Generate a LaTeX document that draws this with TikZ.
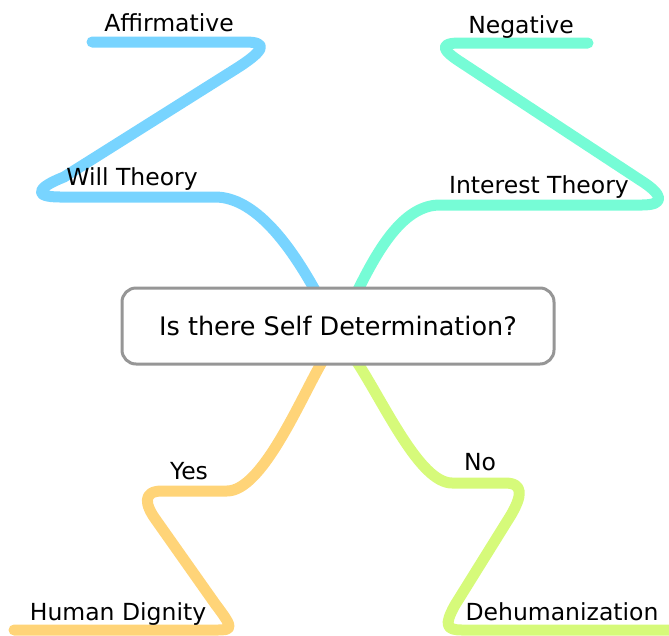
\documentclass[tikz,border=0pt]{standalone}
\usepackage{fontspec}
\setmainfont{DejaVu Sans}
\usepackage{tikz}
\usetikzlibrary{positioning,calc}

\definecolor{willblue}{RGB}{120,212,255}
\definecolor{intgreen}{RGB}{118,252,214}
\definecolor{yesorange}{RGB}{255,212,120}
\definecolor{nolime}{RGB}{214,250,122}
\definecolor{boxgray}{RGB}{150,150,150}

\tikzset{
  branch/.style={line width=11pt, line cap=round, line join=round},
  leaf/.style={anchor=base, font=\fontsize{23.5}{28}\selectfont},
  question/.style={draw=boxgray, line width=3pt, rounded corners=14pt, fill=white,
    minimum width=432pt, minimum height=76pt, font=\fontsize{25.5}{30}\selectfont}
}

\begin{document}
\begin{tikzpicture}[x=1pt,y=-1pt]
\useasboundingbox (0,0) rectangle (669,635);

% branch ends under the box
\coordinate (q-nw) at (316,292);
\coordinate (q-ne) at (357,292);
\coordinate (q-sw) at (322,362);
\coordinate (q-se) at (357,362);

% will theory / affirmative
\draw[branch, willblue] (q-nw) .. controls (290,245) and (255,197) .. (215,197)
  -- (60,197) .. controls (33,197) and (36,188) .. (64,177)
  -- (234,70) .. controls (266,50) and (268,42) .. (245,42) -- (92,42);

% interest theory / negative
\draw[branch, intgreen] (q-ne) .. controls (380,245) and (405,205) .. (440,205)
  -- (642,205) .. controls (665,205) and (664,195) .. (640,180)
  -- (462,63) .. controls (440,49) and (440,43) .. (460,43) -- (588,43);

% yes / human dignity
\draw[branch, yesorange] (q-sw) .. controls (300,400) and (262,491) .. (227,491)
  -- (162,491) .. controls (142,491) and (145,505) .. (156,520)
  -- (216,605) .. controls (235,630) and (232,630) .. (215,630) -- (14,630);

% no / dehumanization
\draw[branch, nolime] (q-se) .. controls (385,405) and (420,483) .. (452,483)
  -- (505,483) .. controls (524,483) and (522,496) .. (511,515)
  -- (455,605) .. controls (444,625) and (446,630) .. (462,630) -- (669,630);

\node[question] (q) at (338,326) {Is there Self Determination?};

\node[leaf] (will) at (132,185) {Will Theory};
\node[leaf] (aff) at (169,31) {Affirmative};
\node[leaf] (int) at (539,193) {Interest Theory};
\node[leaf] (neg) at (521,33) {Negative};
\node[leaf] (yes) at (189,479) {Yes};
\node[leaf] (dig) at (118,620) {Human Dignity};
\node[leaf] (no) at (480,470) {No};
\node[leaf] (dehum) at (562,620) {Dehumanization};
\end{tikzpicture}
\end{document}
